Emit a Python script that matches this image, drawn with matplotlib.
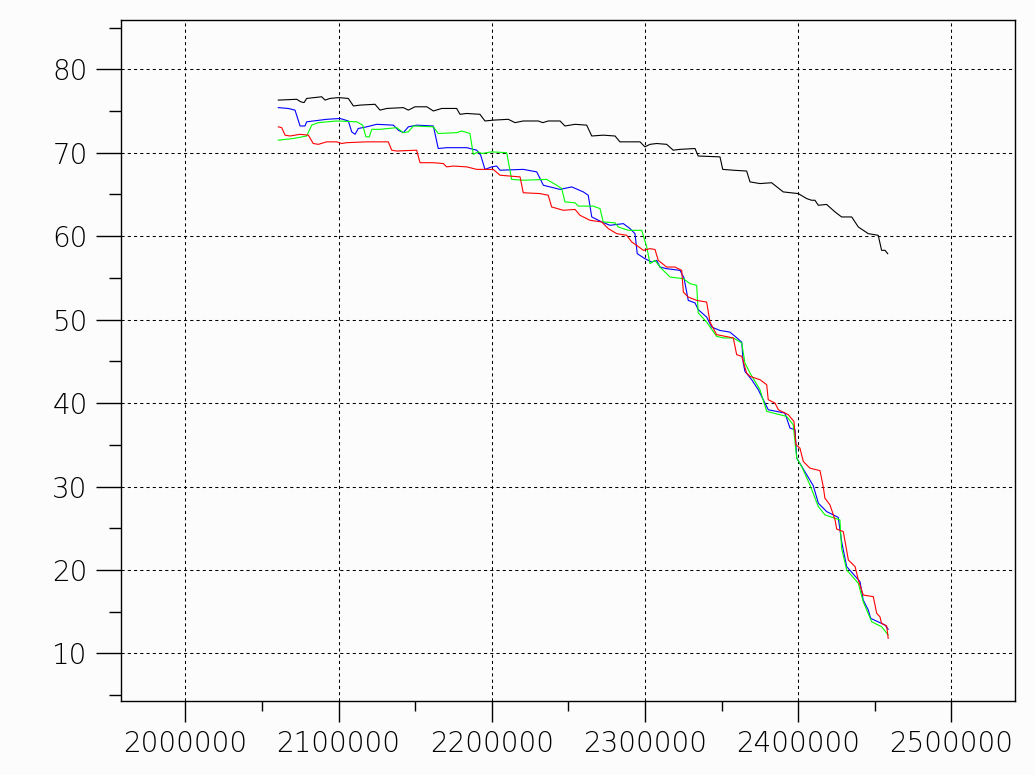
import matplotlib
matplotlib.use("Agg")
import matplotlib.pyplot as plt
from matplotlib.ticker import MultipleLocator, FuncFormatter

# ---- data (x in thousands, converted to full units below) ----
black_x = [2060.7, 2072.7, 2075.3, 2077.5, 2079.2, 2089.0, 2091.2, 2094.4, 2099.9, 2106.4,
           2109.7, 2114.0, 2123.8, 2127.1, 2131.5, 2142.3, 2145.6, 2149.9, 2157.6, 2161.9,
           2167.4, 2177.1, 2179.3, 2183.7, 2192.3, 2195.6, 2201.0, 2210.8, 2215.2, 2220.6,
           2230.4, 2233.3, 2236.9, 2244.6, 2247.8, 2254.4, 2262.0, 2265.3, 2272.8, 2280.5,
           2283.7, 2289.1, 2296.8, 2300.0, 2303.3, 2307.7, 2314.2, 2318.5, 2322.9, 2332.7,
           2334.8, 2349.0, 2350.8, 2357.7, 2366.4, 2368.6, 2375.1, 2382.7, 2390.3, 2400.1,
           2405.6, 2408.8, 2411.0, 2413.2, 2418.6, 2424.1, 2428.4, 2435.0, 2439.3, 2445.8,
           2452.3, 2454.5, 2456.7, 2458.5]
black_y = [76.3, 76.4, 76.1, 76.0, 76.5, 76.7, 76.3, 76.5, 76.6, 76.5,
           75.6, 75.7, 75.8, 75.1, 75.3, 75.4, 75.1, 75.5, 75.5, 75.0,
           75.3, 75.3, 74.6, 74.7, 74.6, 73.8, 73.9, 74.0, 73.6, 73.8,
           73.8, 73.6, 73.8, 73.8, 73.2, 73.4, 73.3, 72.0, 72.1, 72.0,
           71.3, 71.3, 71.3, 70.7, 71.0, 71.1, 71.0, 70.3, 70.4, 70.5,
           69.6, 69.5, 68.0, 67.9, 67.8, 66.5, 66.3, 66.4, 65.3, 65.1,
           64.5, 64.3, 64.3, 63.7, 63.8, 62.9, 62.3, 62.3, 61.1, 60.3,
           60.1, 58.3, 58.3, 57.9]

blue_x = [2060.7, 2067.2, 2071.6, 2074.9, 2078.1, 2079.2, 2092.3, 2101.0, 2106.4, 2108.6,
          2110.8, 2112.9, 2118.4, 2124.9, 2135.8, 2139.0, 2142.3, 2145.6, 2151.0, 2161.9,
          2165.1, 2170.6, 2183.7, 2190.2, 2192.8, 2195.6, 2200.0, 2203.2, 2205.4, 2220.6,
          2229.4, 2233.7, 2244.6, 2252.2, 2259.8, 2263.0, 2265.3, 2271.8, 2277.2, 2285.9,
          2290.3, 2293.5, 2295.0, 2300.0, 2304.4, 2307.7, 2309.8, 2314.2, 2322.9, 2325.5,
          2328.3, 2332.7, 2334.8, 2340.3, 2343.6, 2349.0, 2355.5, 2358.8, 2363.2, 2364.2,
          2365.3, 2369.7, 2374.0, 2380.5, 2391.4, 2394.7, 2398.0, 2399.1, 2409.9, 2413.2,
          2418.6, 2426.2, 2428.4, 2431.7, 2440.4, 2442.5, 2445.8, 2447.4, 2456.7, 2458.8]
blue_y = [75.4, 75.3, 75.1, 73.2, 73.2, 73.7, 74.0, 74.1, 73.8, 72.5,
          72.2, 72.9, 73.1, 73.4, 73.3, 72.7, 72.4, 73.1, 73.3, 73.2,
          70.5, 70.6, 70.6, 70.3, 69.7, 68.0, 68.3, 68.4, 67.9, 68.0,
          67.7, 66.1, 65.6, 65.9, 65.3, 64.9, 62.3, 61.7, 61.3, 61.5,
          60.9, 60.3, 57.9, 57.3, 56.9, 57.1, 56.3, 56.1, 55.9, 55.0,
          52.3, 52.0, 51.2, 50.3, 49.1, 48.7, 48.5, 48.0, 47.3, 44.8,
          43.8, 42.8, 41.6, 39.2, 38.8, 37.0, 36.8, 33.4, 30.1, 28.0,
          27.0, 26.3, 23.4, 20.4, 18.6, 16.4, 15.2, 14.2, 13.4, 12.9]

green_x = [2060.7, 2070.5, 2079.2, 2082.5, 2086.8, 2098.8, 2111.9, 2115.8, 2117.9, 2120.1,
           2121.7, 2127.1, 2138.0, 2142.3, 2145.6, 2148.8, 2161.9, 2165.1, 2177.1, 2180.4,
           2185.8, 2188.0, 2191.2, 2193.5, 2200.0, 2209.8, 2213.0, 2220.6, 2235.9, 2242.4,
           2245.7, 2247.8, 2254.4, 2256.5, 2266.3, 2270.7, 2272.8, 2280.5, 2282.6, 2289.1,
           2297.9, 2301.2, 2303.3, 2306.6, 2309.8, 2316.4, 2325.1, 2329.5, 2333.8, 2334.8,
           2340.3, 2346.8, 2351.2, 2357.7, 2363.2, 2365.3, 2368.6, 2375.1, 2379.5, 2392.5,
           2396.8, 2399.1, 2402.3, 2407.7, 2413.2, 2417.5, 2427.3, 2428.4, 2431.7, 2439.3,
           2442.5, 2448.0, 2454.5, 2458.8]
green_y = [71.5, 71.7, 72.0, 73.3, 73.6, 73.8, 73.7, 73.3, 71.9, 71.9,
           72.8, 72.8, 73.0, 72.4, 72.5, 73.2, 73.1, 72.3, 72.4, 72.6,
           72.3, 69.8, 70.1, 69.9, 70.1, 70.0, 66.8, 66.7, 66.8, 66.1,
           65.7, 64.1, 64.0, 63.6, 63.6, 63.3, 61.7, 61.6, 61.1, 60.7,
           60.7, 58.7, 56.7, 57.1, 56.3, 55.1, 54.9, 54.3, 54.1, 50.8,
           49.7, 48.0, 47.8, 47.8, 47.2, 44.8, 43.6, 41.6, 39.0, 38.4,
           37.4, 33.4, 32.4, 30.2, 27.6, 26.6, 26.0, 22.6, 20.0, 18.4,
           16.2, 13.8, 13.2, 12.2]

red_x = [2060.7, 2062.9, 2065.1, 2068.3, 2074.9, 2080.3, 2083.5, 2086.8, 2092.3, 2098.8,
         2102.1, 2105.3, 2118.4, 2132.5, 2134.7, 2138.0, 2151.0, 2153.2, 2161.9, 2168.4,
         2170.6, 2174.9, 2183.7, 2190.2, 2201.0, 2205.4, 2211.9, 2218.5, 2220.6, 2231.5,
         2236.9, 2239.1, 2246.7, 2254.4, 2257.6, 2264.1, 2271.8, 2276.1, 2281.6, 2288.1,
         2291.4, 2294.6, 2299.0, 2303.3, 2306.6, 2308.7, 2314.2, 2319.6, 2324.0, 2325.1,
         2328.3, 2333.8, 2340.3, 2342.5, 2346.8, 2357.7, 2359.9, 2363.2, 2366.4, 2368.6,
         2375.1, 2379.5, 2380.5, 2384.9, 2387.1, 2393.6, 2397.3, 2398.6, 2401.2, 2403.4,
         2407.7, 2414.3, 2416.4, 2417.5, 2420.8, 2424.1, 2425.2, 2429.5, 2432.8, 2437.2,
         2439.3, 2442.5, 2449.1, 2451.3, 2453.4, 2454.5, 2457.8, 2458.8]
red_y = [73.1, 73.0, 72.1, 72.0, 72.2, 72.1, 71.1, 71.0, 71.3, 71.3,
         71.1, 71.2, 71.3, 71.3, 70.3, 70.2, 70.3, 68.8, 68.8, 68.7,
         68.3, 68.4, 68.3, 68.0, 68.0, 67.3, 67.2, 67.1, 65.2, 65.1,
         64.9, 63.5, 63.1, 63.2, 62.5, 61.9, 61.7, 60.9, 60.3, 60.1,
         59.3, 58.9, 58.3, 58.5, 58.4, 57.1, 56.3, 56.3, 55.9, 53.3,
         52.7, 52.3, 52.1, 49.7, 48.2, 47.8, 45.8, 45.6, 43.6, 43.2,
         42.8, 42.2, 40.4, 40.0, 39.2, 38.6, 37.8, 35.0, 34.6, 33.0,
         32.2, 31.9, 30.0, 28.6, 27.8, 26.0, 24.9, 24.6, 21.2, 20.4,
         18.8, 17.0, 16.8, 14.8, 14.4, 13.6, 13.3, 11.8]

series = [
    (black_x, black_y, "#000000"),
    (blue_x, blue_y, "#0000ff"),
    (green_x, green_y, "#00ff00"),
    (red_x, red_y, "#ff0000"),
]

plt.rcParams["font.family"] = "DejaVu Sans"

fig = plt.figure(figsize=(10.35, 7.75), dpi=100)
fig.patch.set_facecolor("#fcfcfc")
ax = fig.add_axes([0.1169, 0.0955, 0.8638, 0.8787])
ax.set_facecolor("#fcfcfc")

for xs, ys, c in series:
    ax.plot([v * 1000 for v in xs], ys, color=c, lw=0.8, solid_joinstyle="miter")

ax.set_xlim(1958000, 2541600)
ax.set_ylim(4.3, 85.9)

ax.xaxis.set_major_locator(MultipleLocator(100000))
ax.xaxis.set_minor_locator(MultipleLocator(50000))
ax.yaxis.set_major_locator(MultipleLocator(10))
ax.yaxis.set_minor_locator(MultipleLocator(5))
ax.xaxis.set_major_formatter(FuncFormatter(lambda v, p: f"{int(round(v))}"))
ax.yaxis.set_major_formatter(FuncFormatter(lambda v, p: f"{int(round(v))}"))

ax.grid(True, which="major", color="black", linestyle=(0, (3, 3)), lw=0.75)
ax.set_axisbelow(True)

for s in ax.spines.values():
    s.set_linewidth(1.0)

ax.tick_params(axis="x", which="major", direction="out", length=15, width=1.0,
               pad=6, labelsize=20, top=False)
ax.tick_params(axis="x", which="minor", direction="out", length=7.5, width=1.0)
ax.tick_params(axis="y", which="major", direction="out", length=18, width=1.0,
               pad=6, labelsize=20, right=False)
ax.tick_params(axis="y", which="minor", direction="out", length=8.6, width=1.0)

for lab in ax.get_xticklabels() + ax.get_yticklabels():
    lab.set_fontweight("light")

fig.savefig("out.png", dpi=100, facecolor=fig.get_facecolor())
